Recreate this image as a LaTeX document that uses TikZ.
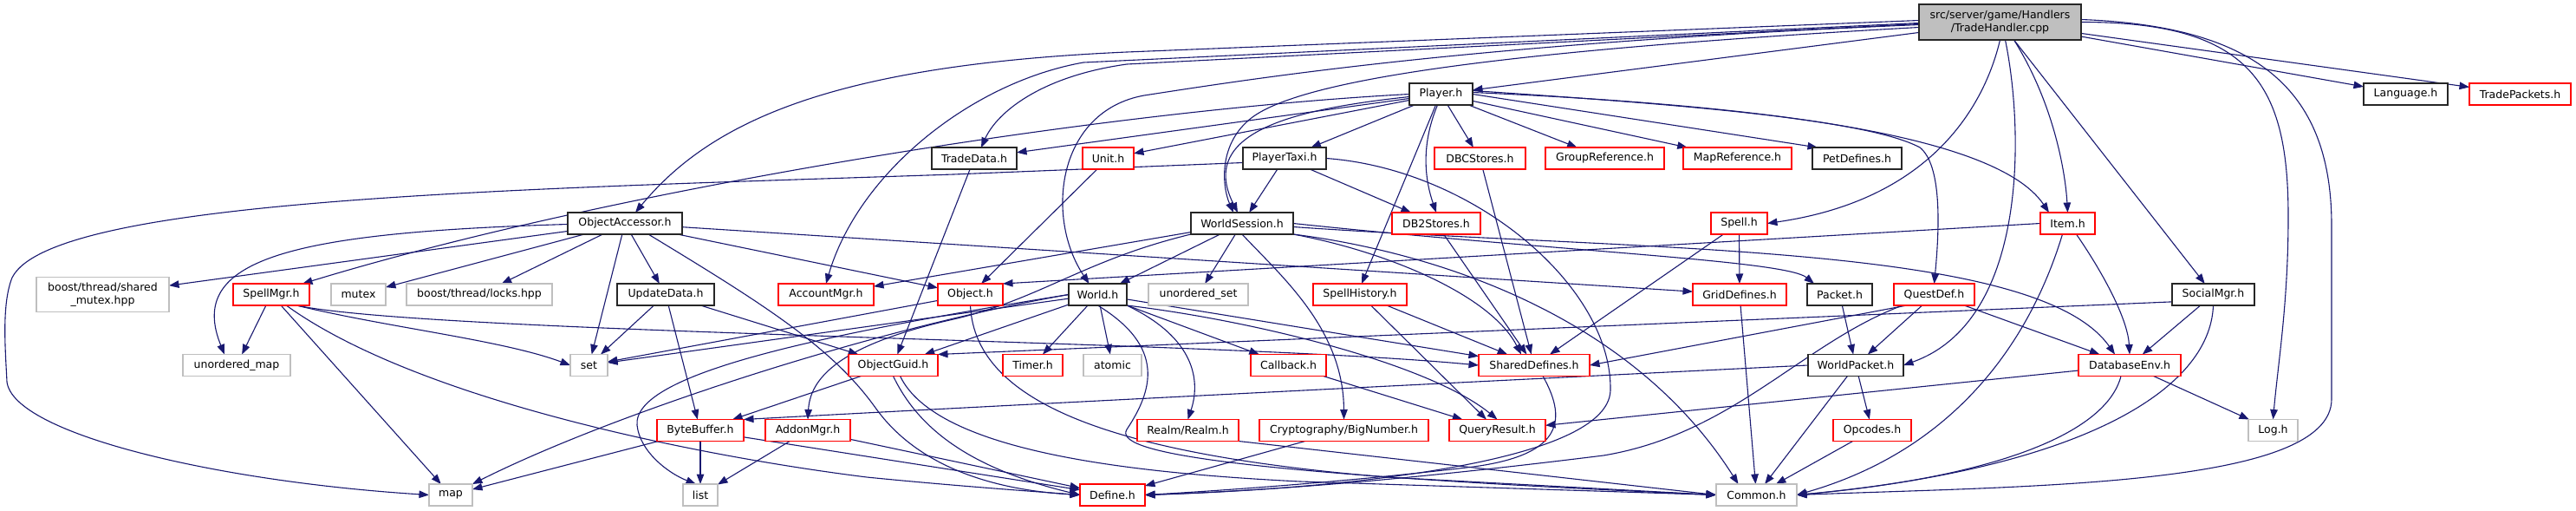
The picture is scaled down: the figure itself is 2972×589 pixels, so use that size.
\documentclass[tikz,border=0pt]{standalone}
\usepackage{fontspec}
\newfontfamily\dv{DejaVu Sans}
\usetikzlibrary{arrows.meta}
\definecolor{edgec}{HTML}{191970}
\definecolor{extc}{HTML}{BFBFBF}
\definecolor{rootc}{HTML}{BFBFBF}
\pgfdeclarelayer{edges}
\pgfsetlayers{edges,main}
\tikzset{
  nbox/.style={draw, line width=1.1pt, fill=white, minimum height=25pt, inner sep=0pt, outer sep=0pt, font=\dv\fontsize{12.5pt}{15pt}\selectfont, text=black},
  nb/.style={nbox, draw=black!85},
  nr/.style={nbox, draw=red},
  ng/.style={nbox, draw=extc},
  edg/.style={draw=edgec, line width=1.1pt, -{Triangle[length=11.5pt,width=8.5pt]}},
}
\begin{document}
\begin{tikzpicture}[x=1pt,y=-1pt]
\useasboundingbox (0,0) rectangle (2972,589);
% ---------- nodes ----------
\node[nb, fill=rootc, minimum width=187pt, minimum height=41pt, align=center] (root) at (2307.5,25.5) {src/server/game/Handlers\\/TradeHandler.cpp};
\node[nb, minimum width=73pt]  (Player) at (1662.5,108.5) {Player.h};
\node[nb, minimum width=97pt]  (Language) at (2775.5,108.5) {Language.h};
\node[nr, minimum width=117pt] (TradePackets) at (2907.5,108.5) {TradePackets.h};
\node[nb, minimum width=98pt]  (TradeData) at (1124,182.5) {TradeData.h};
\node[nr, minimum width=59pt]  (Unit) at (1278.5,182.5) {Unit.h};
\node[nb, minimum width=96pt]  (PlayerTaxi) at (1482,182.5) {PlayerTaxi.h};
\node[nr, minimum width=105pt] (DBCStores) at (1707.5,182.5) {DBCStores.h};
\node[nr, minimum width=137pt] (GroupRef) at (1851.5,182.5) {GroupReference.h};
\node[nr, minimum width=125pt] (MapRef) at (2004.5,182.5) {MapReference.h};
\node[nb, minimum width=103pt] (PetDefines) at (2142.5,182.5) {PetDefines.h};
\node[nb, minimum width=132pt] (ObjAcc) at (721,257.5) {ObjectAccessor.h};
\node[nb, minimum width=118pt] (WorldSession) at (1433,257.5) {WorldSession.h};
\node[nr, minimum width=102pt] (DB2Stores) at (1657,257.5) {DB2Stores.h};
\node[nr, minimum width=65pt]  (Spell) at (2006.5,257.5) {Spell.h};
\node[nr, minimum width=63pt]  (Item) at (2385.5,257.5) {Item.h};
\node[ng, minimum width=153pt, minimum height=40pt, align=center] (smutex) at (118.5,339.5) {boost/thread/shared\\\_mutex.hpp};
\node[nr, minimum width=88pt]  (SpellMgr) at (313,339.5) {SpellMgr.h};
\node[ng, minimum width=63pt]  (mutex) at (413.5,339.5) {mutex};
\node[ng, minimum width=168pt] (locks) at (553,339.5) {boost/thread/locks.hpp};
\node[nb, minimum width=112pt] (UpdateData) at (768,339.5) {UpdateData.h};
\node[nr, minimum width=110pt] (AccountMgr) at (953,339.5) {AccountMgr.h};
\node[nr, minimum width=75pt]  (Object) at (1119.5,339.5) {Object.h};
\node[nb, minimum width=67pt]  (World) at (1266.5,339.5) {World.h};
\node[ng, minimum width=115pt] (uset) at (1382.5,339.5) {unordered\_set};
\node[nr, minimum width=108pt] (SpellHistory) at (1569,339.5) {SpellHistory.h};
\node[nr, minimum width=108pt] (GridDefines) at (2007,339.5) {GridDefines.h};
\node[nb, minimum width=75pt]  (Packet) at (2122.5,339.5) {Packet.h};
\node[nr, minimum width=93pt]  (QuestDef) at (2231.5,339.5) {QuestDef.h};
\node[nb, minimum width=95pt]  (SocialMgr) at (2553.5,339.5) {SocialMgr.h};
\node[ng, minimum width=124pt] (umap) at (273,421) {unordered\_map};
\node[ng, minimum width=43pt]  (set) at (679.5,421) {set};
\node[nr, minimum width=103pt] (ObjectGuid) at (1030.5,421) {ObjectGuid.h};
\node[nr, minimum width=69pt]  (Timer) at (1191.5,421) {Timer.h};
\node[ng, minimum width=67pt]  (atomic) at (1283.5,421) {atomic};
\node[nr, minimum width=87pt]  (Callback) at (1486.5,421) {Callback.h};
\node[nr, minimum width=128pt] (SharedDefines) at (1770,421) {SharedDefines.h};
\node[nb, minimum width=110pt] (WorldPacket) at (2141,421) {WorldPacket.h};
\node[nr, minimum width=118pt] (DatabaseEnv) at (2457,421) {DatabaseEnv.h};
\node[nr, minimum width=100pt] (ByteBuffer) at (808,496) {ByteBuffer.h};
\node[nr, minimum width=98pt]  (AddonMgr) at (932,496) {AddonMgr.h};
\node[nr, minimum width=117pt] (Realm) at (1370.5,496) {Realm/Realm.h};
\node[nr, minimum width=195pt] (BigNumber) at (1550.5,496) {Cryptography/BigNumber.h};
\node[nr, minimum width=111pt] (QueryResult) at (1727.5,496) {QueryResult.h};
\node[nr, minimum width=90pt]  (Opcodes) at (2160,496) {Opcodes.h};
\node[ng, minimum width=57pt]  (Log) at (2622.5,496) {Log.h};
\node[ng, minimum width=50pt]  (map) at (520,570.5) {map};
\node[ng, minimum width=40pt]  (list) at (808,570.5) {list};
\node[nr, minimum width=75pt]  (Define) at (1283.5,570.5) {Define.h};
\node[ng, minimum width=93pt]  (Common) at (2026.5,570.5) {Common.h};
% ---------- edges ----------
\begin{pgfonlayer}{edges}
\fill[white] (0,0) rectangle (2972,589);
% root
\draw[edg] ([yshift=2pt]root.west) -- (1300,60) .. controls (960,75) and (820,140) .. ([xshift=12pt]ObjAcc.north);
\draw[edg] ([yshift=-1pt]root.west) -- (1250,72) .. controls (1120,95) and (990,200) .. (AccountMgr.north);
\draw[edg] ([yshift=-2pt]root.west) -- (1300,74) .. controls (1200,88) and (1150,130) .. ([xshift=8pt]TradeData.north);
\draw[edg] ([yshift=-3pt]root.west) .. controls (1700,50) and (1450,90) .. (1320,110) .. controls (1220,128) and (1205,250) .. ([xshift=-10pt]World.north);
\draw[edg] ([yshift=-6pt]root.west) .. controls (1700,60) and (1500,95) .. (1445,135) .. controls (1405,165) and (1410,215) .. ([xshift=-10pt]WorldSession.north);
\draw[edg] (root) -- (Player);
\draw[edg] (root) -- (Language);
\draw[edg] (root) -- (TradePackets);
\draw[edg] (root.east) .. controls (2600,25) and (2640,100) .. (2640,250) .. controls (2640,350) and (2628,420) .. (Log.north);
\draw[edg] ([yshift=3pt]root.east) .. controls (2600,30) and (2690,100) .. (2690,260) -- (2690,460) .. controls (2690,560) and (2350,560) .. (Common.east);
\draw[edg] (root.south) .. controls (2290,120) and (2230,230) .. (Spell.east);
\draw[edg] ([xshift=6pt]root.south) .. controls (2335,150) and (2340,370) .. (WorldPacket.east);
\draw[edg] ([xshift=16pt]root.south) .. controls (2370,120) and (2383,200) .. (Item.north);
\draw[edg] (root) -- (SocialMgr);
% Player
\draw[edg] (Player.west) .. controls (1260,128) and (700,220) .. ([xshift=36pt]SpellMgr.north);
\draw[edg] (Player) -- (TradeData);
\draw[edg] (Player) -- (Unit);
\draw[edg] ([yshift=-3pt]Player.west) .. controls (1500,125) and (1380,150) .. ([xshift=-5pt]WorldSession.north);
\draw[edg] (Player) -- (PlayerTaxi);
\draw[edg] ([xshift=-6pt]Player.south) -- ([xshift=2pt]SpellHistory.north);
\draw[edg] ([xshift=-4pt]Player.south) .. controls (1638,170) and (1645,210) .. (DB2Stores.north);
\draw[edg] (Player) -- (DBCStores);
\draw[edg] (Player) -- (GroupRef);
\draw[edg] (Player) -- (MapRef);
\draw[edg] (Player.east) -- ([xshift=6pt]PetDefines.north west);
\draw[edg] ([yshift=2pt]Player.east) .. controls (2000,120) and (2300,150) .. ([xshift=10pt]Item.north west);
\draw[edg] ([yshift=4pt]Player.east) .. controls (1900,118) and (2150,135) .. (2215,170) .. controls (2240,190) and (2238,260) .. (QuestDef.north);
% PlayerTaxi
\draw[edg] ([yshift=-5pt]PlayerTaxi.west) -- (1100,201) .. controls (600,218) and (60,228) .. (14,320) .. controls (2,350) and (6,400) .. (8,440) .. controls (15,500) and (250,555) .. (map.west);
\draw[edg] (PlayerTaxi) -- (WorldSession);
\draw[edg] (PlayerTaxi) -- (DB2Stores);
\draw[edg] (PlayerTaxi.east) .. controls (1700,195) and (1860,330) .. (1858,450) .. controls (1855,540) and (1500,565) .. (Define.east);
% misc upper
\draw[edg] (Unit) -- (Object);
\draw[edg] (TradeData) -- (ObjectGuid);
\draw[edg] (DBCStores) -- (SharedDefines);
\draw[edg] (DB2Stores) -- (SharedDefines);
% ObjectAccessor
\draw[edg] (ObjAcc) -- (smutex);
\draw[edg] ([yshift=-1pt]ObjAcc.west) .. controls (330,268) and (215,300) .. ([xshift=-14pt]umap.north);
\draw[edg] (ObjAcc) -- (mutex);
\draw[edg] (ObjAcc) -- (locks);
\draw[edg] (ObjAcc) -- (set);
\draw[edg] (ObjAcc) -- (UpdateData);
\draw[edg] ([xshift=27pt]ObjAcc.south) .. controls (880,350) and (960,400) .. (1010,470) .. controls (1060,540) and (1150,565) .. (Define.west);
\draw[edg] (ObjAcc) -- (Object);
\draw[edg] (ObjAcc) -- (GridDefines);
% SpellMgr
\draw[edg] (SpellMgr) -- (umap);
\draw[edg] (SpellMgr) -- (map);
\draw[edg] (SpellMgr) .. controls (480,460) and (800,525) .. (1000,550) .. controls (1100,560) and (1200,567) .. (Define.west);
\draw[edg] ([xshift=-15pt]SpellMgr.south east) .. controls (450,378) and (580,392) .. (set.west);
\draw[edg] ([xshift=-15pt]SpellMgr.south east) .. controls (500,385) and (1400,392) .. (SharedDefines.west);
% UpdateData
\draw[edg] (UpdateData) -- (set);
\draw[edg] (UpdateData) -- (ByteBuffer);
\draw[edg] (UpdateData) -- (ObjectGuid);
% Object
\draw[edg] (Object) -- (set);
\draw[edg] (Object.south) .. controls (1125,470) and (1300,525) .. (1600,550) -- (Common.west);
% ObjectGuid
\draw[edg] (ObjectGuid) -- (ByteBuffer);
\draw[edg] (ObjectGuid.south) .. controls (1060,495) and (1120,540) .. (Define.west);
\draw[edg] ([xshift=8pt]ObjectGuid.south) .. controls (1080,520) and (1300,545) .. (1500,555) -- (Common.west);
% ByteBuffer, AddonMgr
\draw[edg] (ByteBuffer) -- (list);
\draw[edg] (ByteBuffer) -- (map);
\draw[edg] (ByteBuffer) -- (Define);
\draw[edg] (AddonMgr) -- (list);
\draw[edg] (AddonMgr) -- (Define);
% World
\draw[edg] (World) -- (set);
\draw[edg] (World) -- (ObjectGuid);
\draw[edg] (World) -- (Timer);
\draw[edg] (World) -- (atomic);
\draw[edg] (World) -- (Callback);
\draw[edg] (World) -- (SharedDefines);
\draw[edg] (World.south east) .. controls (1450,370) and (1650,420) .. (QueryResult.north);
\draw[edg] (World.south east) .. controls (1380,390) and (1385,440) .. (Realm.north);
\draw[edg] (World.west) .. controls (1000,380) and (700,480) .. (map.north east);
\draw[edg] (World.west) .. controls (950,385) and (730,430) .. (735,490) .. controls (738,520) and (770,545) .. ([xshift=-5pt]list.north);
\draw[edg] (World.south) .. controls (1345,400) and (1330,450) .. (1300,495) .. controls (1285,520) and (1400,545) .. (Common.west);
% WorldSession
\draw[edg] (WorldSession) -- (AccountMgr);
\draw[edg] (WorldSession.south west) .. controls (1250,300) and (1200,345) .. (1100,368) .. controls (980,395) and (935,430) .. (AddonMgr.north);
\draw[edg] (WorldSession) -- (World);
\draw[edg] (WorldSession) -- (uset);
\draw[edg] (WorldSession.south) .. controls (1480,320) and (1550,380) .. (BigNumber.north);
\draw[edg] (WorldSession.east) .. controls (1800,290) and (2060,300) .. ([xshift=8pt]Packet.north west);
\draw[edg] ([yshift=-4pt]WorldSession.east) .. controls (1900,290) and (2350,280) .. ([xshift=-17pt]DatabaseEnv.north);
\draw[edg] (WorldSession.south east) .. controls (1600,290) and (1720,340) .. ([xshift=-15pt]SharedDefines.north);
\draw[edg] (WorldSession.south east) .. controls (1650,290) and (1880,360) .. ([xshift=-21pt]Common.north);
% lower middle
\draw[edg] (Callback) -- (QueryResult);
\draw[edg] ([xshift=10pt]SharedDefines.south) .. controls (1812,490) and (1795,525) .. (1700,538) .. controls (1550,556) and (1400,566) .. (Define.east);
\draw[edg] (SpellHistory) -- (SharedDefines);
\draw[edg] (SpellHistory) -- (QueryResult);
\draw[edg] (Spell) -- (GridDefines);
\draw[edg] (Spell) -- (SharedDefines);
\draw[edg] (Realm.south east) -- (Common.west);
\draw[edg] (BigNumber) -- (Define);
% Item
\draw[edg] (Item.west) -- (Object.north east);
\draw[edg] ([xshift=10pt]Item.south) .. controls (2430,320) and (2455,370) .. (DatabaseEnv.north);
\draw[edg] ([xshift=-6pt]Item.south) .. controls (2340,400) and (2250,520) .. (Common.east);
% QuestDef
\draw[edg] (QuestDef) -- (WorldPacket);
\draw[edg] (QuestDef) -- (DatabaseEnv);
\draw[edg] ([xshift=15pt]QuestDef.south west) -- (SharedDefines.east);
\draw[edg] ([xshift=10pt]QuestDef.south west) .. controls (2080,395) and (2000,500) .. (1850,525) .. controls (1600,556) and (1450,566) .. (Define.east);
% SocialMgr
\draw[edg] (SocialMgr) -- (DatabaseEnv);
\draw[edg] (SocialMgr.south) .. controls (2550,450) and (2400,540) .. (Common.east);
\draw[edg] (SocialMgr.190) -- (ObjectGuid.north east);
% WorldPacket
\draw[edg] (WorldPacket) -- (Opcodes);
\draw[edg] (WorldPacket) -- (Common);
\draw[edg] (WorldPacket.west) .. controls (1700,440) and (1200,465) .. (ByteBuffer.north east);
% DatabaseEnv
\draw[edg] (DatabaseEnv) -- (Log);
\draw[edg] ([xshift=-10pt]DatabaseEnv.south) .. controls (2430,500) and (2300,550) .. (Common.east);
\draw[edg] (DatabaseEnv) -- (QueryResult);
% rest
\draw[edg] (GridDefines) -- (Common);
\draw[edg] (Packet) -- (WorldPacket);
\draw[edg] (Opcodes) -- (Common);
\end{pgfonlayer}
\end{tikzpicture}
\end{document}
